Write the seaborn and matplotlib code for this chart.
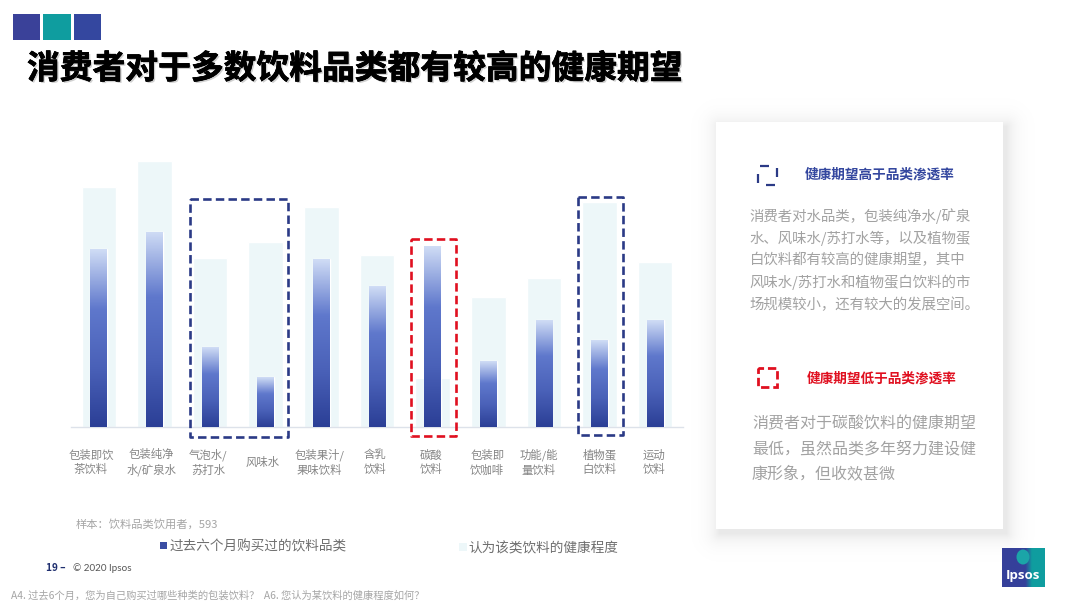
import matplotlib
matplotlib.use('Agg')
import matplotlib.pyplot as plt
import matplotlib.patheffects as pe
from matplotlib.colors import LinearSegmentedColormap
from matplotlib.patches import Ellipse, Rectangle
from matplotlib.transforms import ScaledTranslation
import numpy as np
import seaborn as sns

categories = ['包装即饮\n茶饮料', '包装纯净\n水/矿泉水', '气泡水/\n苏打水', '风味水', '包装果汁/\n果味饮料',
              '含乳\n饮料', '碳酸\n饮料', '包装即\n饮咖啡', '功能/能\n量饮料', '植物蛋\n白饮料', '运动\n饮料']
# the chart has no value axis so units are arbitrary
health_expect = [240, 266, 169, 185, 220, 172, 49, 130, 149, 225, 165]
purchased = [178, 195, 80, 50, 168, 141, 181, 66, 107, 87, 107]
label_shift = [-8, -3, -2, -3, -2, -2, -2, -1, -5, 0, -1]

title = '消费者对于多数饮料品类都有较高的健康期望'
legend_labels = ['过去六个月购买过的饮料品类', '认为该类饮料的健康程度']
sample_note = '样本：饮料品类饮用者，593'
footnote = 'A4. 过去6个月，您为自己购买过哪些种类的包装饮料？  A6. 您认为某饮料的健康程度如何？'
high_title = '健康期望高于品类渗透率'
high_body = ['消费者对水品类，包装纯净水/矿泉', '水、风味水/苏打水等，以及植物蛋', '白饮料都有较高的健康期望，其中',
             '风味水/苏打水和植物蛋白饮料的市', '场规模较小，还有较大的发展空间。']
low_title = '健康期望低于品类渗透率'
low_body = ['消费者对于碳酸饮料的健康期望', '最低，虽然品类多年努力建设健', '康形象，但收效甚微']

NAVY = '#2b3a86'
RED = '#e01020'
GRAY = '#a2a2a2'
LIGHT = '#edf7f9'

sns.set_theme(style='white')
plt.rcParams['font.family'] = ['Noto Sans CJK SC', 'DejaVu Sans']

W, H = 1080, 608
fig = plt.figure(figsize=(W / 100, H / 100), dpi=100, facecolor='white')

# page layer in pixel coordinates for everything round the chart
page = fig.add_axes([0, 0, 1, 1], zorder=0)
page.set_xlim(0, W)
page.set_ylim(H, 0)
page.axis('off')

for x0, x1, c in [(13, 40, '#3a4199'), (43, 71, '#0f9d9f'), (74, 101, '#34479f')]:
    page.add_patch(Rectangle((x0, 14), x1 - x0, 26, color=c, lw=0))

page.text(27, 69, title, fontsize=23.6, fontweight='bold', color='black', va='center',
          path_effects=[pe.withSimplePatchShadow(offset=(1.2, -1.2), shadow_rgbFace='#999999', alpha=0.45),
                        pe.withStroke(linewidth=0.5, foreground='black')])

# card with soft shadow, stronger towards the lower right
yy, xx = np.mgrid[90:570, 680:1045]
dx = np.maximum(np.maximum(719 - xx, xx - 1006), 0)
dy = np.maximum(np.maximum(126 - yy, yy - 533), 0)
shadow = np.zeros(xx.shape + (4,))
shadow[..., 3] = 0.09 * np.exp(-np.hypot(dx, dy) / 9)
page.imshow(shadow, extent=(680, 1045, 570, 90), aspect='auto', interpolation='nearest')
page.set_xlim(0, W)
page.set_ylim(H, 0)
page.add_patch(Rectangle((716, 122), 287, 407, color='white', lw=0, zorder=3))

# period of the dash equals the side, so each side keeps one offset dash
page.add_patch(Rectangle((758, 166), 19, 19, fill=False, ec=NAVY, lw=1.6, ls=(7.65, (4.05, 4.5)), zorder=4))
page.text(805, 174, high_title, fontsize=9.8, color='#34479f', fontweight='bold', va='center', zorder=4)
for i, line in enumerate(high_body):
    page.text(749.5, 216 + i * 22.2, line, fontsize=10.4, color=GRAY, va='center', zorder=4)

page.add_patch(Rectangle((758, 368), 19, 19, fill=False, ec=RED, lw=2, ls=(1, (3, 1.4)), zorder=4))
page.text(807, 378, low_title, fontsize=9.8, color=RED, fontweight='bold', va='center', zorder=4)
for i, line in enumerate(low_body):
    page.text(752, 424 + i * 25, line, fontsize=11.5, color=GRAY, va='center', zorder=4)

page.text(76, 524, sample_note, fontsize=8.1, color='#a5a5a5', va='center')
page.text(170, 546, legend_labels[0], fontsize=9.8, color='#6f6f6f', va='center')
page.text(468, 548, legend_labels[1], fontsize=9.8, color='#6f6f6f', va='center')
page.add_patch(Rectangle((160, 542), 7, 7, color='#3a4da3', lw=0))
page.add_patch(Rectangle((459, 543), 8, 8, color=LIGHT, lw=0))
page.text(46, 568, '19 –', fontsize=7.2, color='#1f2f6f', fontweight='bold', va='center')
page.text(73, 568, '© 2020 Ipsos', fontsize=7.1, color='#555555', va='center', family=['Lato', 'DejaVu Sans'])
page.text(11, 596, footnote, fontsize=7.4, color='#a5a5a5', va='center')

# logo
logo_cmap = LinearSegmentedColormap.from_list('logo', [(0, '#35409a'), (0.55, '#35409a'), (0.7, '#0f9d9f'), (1, '#0f9d9f')])
page.imshow(np.linspace(0, 1, 64).reshape(1, -1), extent=(1002, 1045, 587, 548), cmap=logo_cmap, aspect='auto', zorder=4)
page.set_xlim(0, W)
page.set_ylim(H, 0)
page.add_patch(Ellipse((1023, 557), 13, 15, color='#1ba5a8', lw=0, zorder=5))
page.text(1023, 576, 'Ipsos', fontsize=9.5, color='white', fontweight='bold', ha='center', va='center',
          family=['Open Sans', 'DejaVu Sans'], zorder=5)

# chart
ax = fig.add_axes([71 / W, 1 - 427 / H, 612 / W, 277 / H], zorder=1)
ax.patch.set_alpha(0)
sns.barplot(x=categories, y=health_expect, color=LIGHT, saturation=1, width=0.62, ax=ax, zorder=2)
n_light = len(ax.patches)
sns.barplot(x=categories, y=purchased, color='#3a4da3', saturation=1, width=0.30, ax=ax, zorder=3)
ax.set_xlim(-0.5, 10.5)
ax.set_ylim(0, 277)

bar_cmap = LinearSegmentedColormap.from_list('bar', ['#2b3f96', '#4a61b8', '#5f78cc', '#cfdcf5'])
ramp = np.linspace(1, 0, 128).reshape(-1, 1)
for bar in ax.patches[n_light:]:
    x0, w, h = bar.get_x(), bar.get_width(), bar.get_height()
    im = ax.imshow(ramp, extent=(x0, x0 + w, 0, h), cmap=bar_cmap, aspect='auto', zorder=4)
    im.set_clip_path(bar)
ax.set_xlim(-0.5, 10.5)
ax.set_ylim(0, 277)

ax.set_xlabel('')
ax.set_ylabel('')
ax.set_yticks([])
ax.set_xticks(range(len(categories)))
ax.set_xticklabels(categories, fontsize=8.2, color='#858585', linespacing=1.38, va='center')
ax.tick_params(axis='x', length=0, pad=25.5)
for lab, dx_px in zip(ax.get_xticklabels(), label_shift):
    lab.set_transform(lab.get_transform() + ScaledTranslation(dx_px / 100, 0, fig.dpi_scale_trans))
sns.despine(ax=ax, left=True)
ax.spines['bottom'].set_color('#dde2ea')
ax.spines['bottom'].set_linewidth(1)

# dashed highlight boxes, on top of the chart
top = fig.add_axes([0, 0, 1, 1], zorder=2)
top.set_xlim(0, W)
top.set_ylim(H, 0)
top.axis('off')
for x0, x1, y0, y1, c in [(190, 288, 199, 437, NAVY), (411, 456, 239, 436, RED), (578, 623, 197, 435, NAVY)]:
    top.add_patch(Rectangle((x0, y0), x1 - x0, y1 - y0, fill=False, ec=c, lw=1.9, ls=(0, (3.2, 1.6)), joinstyle='round'))

fig.savefig('out.png', dpi=100, facecolor='white')
